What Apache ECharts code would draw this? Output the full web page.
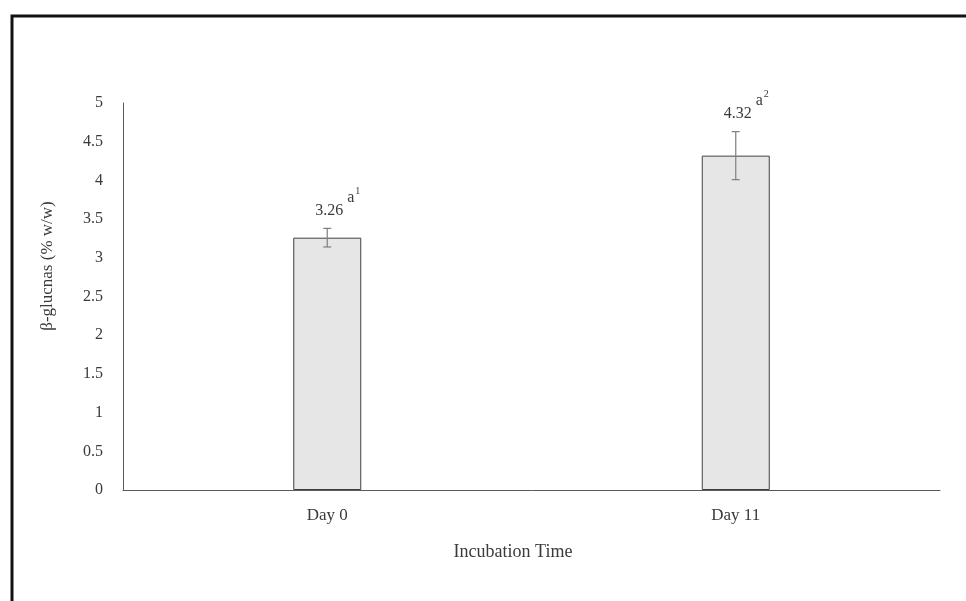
<!DOCTYPE html>
<html>
<head>
<meta charset="utf-8">
<script src="https://cdn.jsdelivr.net/npm/echarts@6/dist/echarts.min.js"></script>
<style>
  html, body { margin: 0; padding: 0; background: #fff; }
  #chart { width: 966px; height: 601px; }
</style>
</head>
<body>
<div id="chart"></div>
<script>
// data
const categories = ['Day 0', 'Day 11'];
const glucanValues = [3.26, 4.32];
const errorValues = [0.12, 0.31];
const groupLetters = ['a', 'a'];
const supLabels = ['1', '2'];
const yTicks = { min: 0, max: 5, interval: 0.5 };

const serif = '"Liberation Serif", "DejaVu Serif", serif';
const textColor = '#3a3a3a';

let chartInstance = echarts.init(document.getElementById('chart'));

// error bar + value label rows: [categoryIndex, value, error]
const errData = glucanValues.map((v, i) => [i, v, errorValues[i]]);

const option = {
  animation: false,
  grid: {
    left: 123,
    right: 26,
    top: 103,
    bottom: 111,
  },
  xAxis: {
    type: 'category',
    data: categories,
    axisTick: { show: false },
    axisLine: { lineStyle: { color: '#595959', width: 1 } },
    axisLabel: {
      color: textColor,
      fontFamily: serif,
      fontSize: 17,
      margin: 17,
    },
  },
  yAxis: {
    type: 'value',
    min: yTicks.min,
    max: yTicks.max,
    interval: yTicks.interval,
    splitLine: { show: false },
    axisTick: { show: false },
    axisLine: { show: true, lineStyle: { color: '#595959', width: 1 } },
    axisLabel: {
      color: textColor,
      fontFamily: serif,
      fontSize: 16,
      margin: 20,
    },
  },
  graphic: [
    // frame: top and left edge only
    {
      type: 'polyline',
      shape: { points: [[12, 601], [12, 16], [966, 16]] },
      style: { stroke: '#111', lineWidth: 3, fill: null },
    },
    {
      type: 'text',
      x: 48,
      y: 266,
      rotation: Math.PI / 2,
      style: {
        text: 'β-glucnas (% w/w)',
        font: '17px ' + serif,
        fill: textColor,
        align: 'center',
        verticalAlign: 'middle',
      },
    },
    {
      type: 'text',
      x: 513,
      y: 552,
      style: {
        text: 'Incubation Time',
        font: '18px ' + serif,
        fill: textColor,
        align: 'center',
        verticalAlign: 'middle',
      },
    },
  ],
  series: [
    {
      type: 'bar',
      data: glucanValues,
      barWidth: 68,
      itemStyle: {
        color: '#e7e6e6',
        borderColor: '#404040',
        borderWidth: 1,
      },
    },
    {
      type: 'custom',
      data: errData,
      z: 5,
      renderItem: function (params, api) {
        const idx = api.value(0);
        const v = api.value(1);
        const e = api.value(2);
        const top = api.coord([idx, v + e]);
        const bot = api.coord([idx, v - e]);
        const cx = top[0];
        const cap = 4;
        const stroke = { stroke: '#7f7f7f', lineWidth: 1.2 };
        return {
          type: 'group',
          children: [
            { type: 'line', shape: { x1: cx, y1: top[1], x2: cx, y2: bot[1] }, style: stroke },
            { type: 'line', shape: { x1: cx - cap, y1: top[1], x2: cx + cap, y2: top[1] }, style: stroke },
            { type: 'line', shape: { x1: cx - cap, y1: bot[1], x2: cx + cap, y2: bot[1] }, style: stroke },
            {
              type: 'text',
              x: cx + 2,
              y: top[1] - 18,
              style: {
                text: glucanValues[params.dataIndex].toFixed(2),
                font: '16px ' + serif,
                fill: textColor,
                align: 'center',
                verticalAlign: 'middle',
              },
            },
            {
              type: 'text',
              x: cx + 20,
              y: top[1] - 31,
              style: {
                text: groupLetters[params.dataIndex],
                font: '16px ' + serif,
                fill: textColor,
                align: 'left',
                verticalAlign: 'middle',
              },
            },
            {
              type: 'text',
              x: cx + 28,
              y: top[1] - 37,
              style: {
                text: supLabels[params.dataIndex],
                font: '10px ' + serif,
                fill: textColor,
                align: 'left',
                verticalAlign: 'middle',
              },
            },
          ],
        };
      },
    },
  ],
};

chartInstance.setOption(option);
</script>
</body>
</html>
